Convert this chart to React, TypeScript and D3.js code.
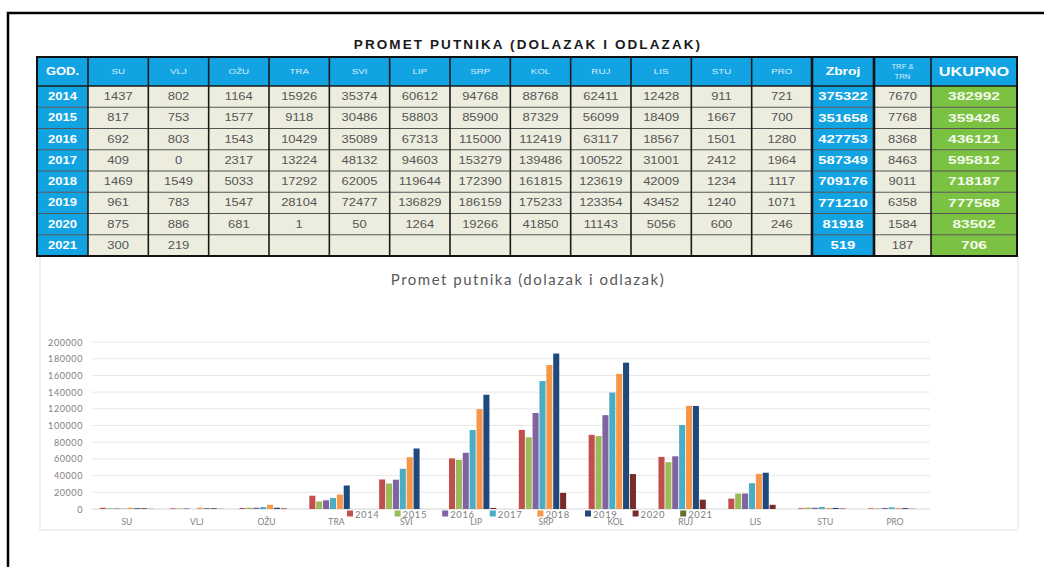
import * as d3 from "d3";
import { useEffect, useRef } from "react";

// month labels (table header + chart categories)
const months = ["SU", "VLJ", "OŽU", "TRA", "SVI", "LIP", "SRP", "KOL", "RUJ", "LIS", "STU", "PRO"];
const years = ["2014", "2015", "2016", "2017", "2018", "2019", "2020", "2021"];

// passengers per month, one array per year
const y2014 = [1437, 802, 1164, 15926, 35374, 60612, 94768, 88768, 62411, 12428, 911, 721];
const y2015 = [817, 753, 1577, 9118, 30486, 58803, 85900, 87329, 56099, 18409, 1667, 700];
const y2016 = [692, 803, 1543, 10429, 35089, 67313, 115000, 112419, 63117, 18567, 1501, 1280];
const y2017 = [409, 0, 2317, 13224, 48132, 94603, 153279, 139486, 100522, 31001, 2412, 1964];
const y2018 = [1469, 1549, 5033, 17292, 62005, 119644, 172390, 161815, 123619, 42009, 1234, 1117];
const y2019 = [961, 783, 1547, 28104, 72477, 136829, 186159, 175233, 123354, 43452, 1240, 1071];
const y2020 = [875, 886, 681, 1, 50, 1264, 19266, 41850, 11143, 5056, 600, 246];
const y2021 = [300, 219, null, null, null, null, null, null, null, null, null, null];

const zbroj = [375322, 351658, 427753, 587349, 709176, 771210, 81918, 519];
const trfTrn = [7670, 7768, 8368, 8463, 9011, 6358, 1584, 187];
const ukupno = [382992, 359426, 436121, 595812, 718187, 777568, 83502, 706];

const yTicks = [0, 20000, 40000, 60000, 80000, 100000, 120000, 140000, 160000, 180000, 200000];

const seriesColors = ["#c0504d", "#9bbb59", "#8064a2", "#4bacc6", "#f79646", "#1f497d", "#772c2a", "#5f7530"];

const monthly = [y2014, y2015, y2016, y2017, y2018, y2019, y2020, y2021];

const CYAN = "#12a3e3";
const BEIGE = "#ecedde";
const GREEN = "#7cc242";
const SX = 1.3; // the table text looks horizontally stretched

const App = () => {
  const svgRef = useRef(null);

  useEffect(() => {
    const width = 1044;
    const height = 567;
    const svg = d3.select(svgRef.current).attr("width", width).attr("height", height);
    svg.selectAll("*").remove();

    // stretched centred text helper
    const sText = (g, x, y, txt, size, fill, weight = "normal", sx = SX) =>
      g
        .append("text")
        .attr("transform", `translate(${x},${y}) scale(${sx},1)`)
        .attr("text-anchor", "middle")
        .attr("dominant-baseline", "central")
        .attr("font-family", "Liberation Sans, Arial, sans-serif")
        .attr("font-size", size)
        .attr("font-weight", weight)
        .attr("fill", fill)
        .text(txt);

    //////////
    // CHART BOX //
    //////////
    svg
      .append("rect")
      .attr("x", 40)
      .attr("y", 256)
      .attr("width", 978)
      .attr("height", 274)
      .attr("fill", "#fff")
      .attr("stroke", "#e2e2e2");

    //////////
    // TABLE //
    //////////
    const table = svg.append("g");
    const tLeft = 37;
    const tRight = 1017;
    const headTop = 57;
    const headBottom = 86;
    const tBottom = 256;
    const col = d3.scaleBand().domain(months).range([88, 812]);
    const row = d3.scaleBand().domain(years).range([headBottom, tBottom]);
    const zbX = [812, 874];
    const trfX = [874, 931];
    const ukX = [931, tRight];

    table
      .append("text")
      .attr("x", 528)
      .attr("y", 44)
      .attr("text-anchor", "middle")
      .attr("dominant-baseline", "central")
      .attr("font-family", "Liberation Sans, Arial, sans-serif")
      .attr("font-weight", "bold")
      .attr("font-size", 13.5)
      .attr("letter-spacing", 2.1)
      .attr("fill", "#1a1a1a")
      .text("PROMET PUTNIKA (DOLAZAK I ODLAZAK)");

    // header row
    table
      .append("rect")
      .attr("x", tLeft)
      .attr("y", headTop)
      .attr("width", tRight - tLeft)
      .attr("height", headBottom - headTop)
      .attr("fill", CYAN);
    const headMid = (headTop + headBottom) / 2;
    sText(table, (tLeft + 88) / 2, headMid, "GOD.", 10, "#fff", "bold");
    months.forEach((m) => sText(table, col(m) + col.bandwidth() / 2, headMid, m, 7.5, "#d8effb", "normal"));
    sText(table, (zbX[0] + zbX[1]) / 2, headMid, "Zbroj", 11.5, "#fff", "bold", 1.2);
    sText(table, (trfX[0] + trfX[1]) / 2, headMid - 5, "TRF &", 7, "#d8effb", "normal", 1.1);
    sText(table, (trfX[0] + trfX[1]) / 2, headMid + 5, "TRN", 7, "#d8effb", "normal", 1.1);
    sText(table, (ukX[0] + ukX[1]) / 2, headMid, "UKUPNO", 13, "#fff", "bold", 1.25);

    // body rows
    years.forEach((yr, i) => {
      const ry = row(yr);
      const rh = row.bandwidth();
      const mid = ry + rh / 2;
      table.append("rect").attr("x", tLeft).attr("y", ry).attr("width", 88 - tLeft).attr("height", rh).attr("fill", CYAN);
      table.append("rect").attr("x", 88).attr("y", ry).attr("width", zbX[0] - 88).attr("height", rh).attr("fill", BEIGE);
      table.append("rect").attr("x", zbX[0]).attr("y", ry).attr("width", zbX[1] - zbX[0]).attr("height", rh).attr("fill", CYAN);
      table.append("rect").attr("x", trfX[0]).attr("y", ry).attr("width", trfX[1] - trfX[0]).attr("height", rh).attr("fill", BEIGE);
      table.append("rect").attr("x", ukX[0]).attr("y", ry).attr("width", ukX[1] - ukX[0]).attr("height", rh).attr("fill", GREEN);

      sText(table, (tLeft + 88) / 2, mid, yr, 10, "#fff", "bold");
      monthly[i].forEach((v, j) => {
        if (v === null) return;
        sText(table, col(months[j]) + col.bandwidth() / 2, mid, `${v}`, 10, "#555");
      });
      sText(table, (zbX[0] + zbX[1]) / 2, mid, `${zbroj[i]}`, 11, "#fff", "bold", 1.35);
      sText(table, (trfX[0] + trfX[1]) / 2, mid, `${trfTrn[i]}`, 10, "#555");
      sText(table, (ukX[0] + ukX[1]) / 2, mid, `${ukupno[i]}`, 11.5, "#f4fbee", "bold", 1.35);
    });

    // grid lines
    const rowEdges = [headBottom, ...years.slice(1).map((yr) => row(yr))];
    rowEdges.forEach((ry, k) =>
      table
        .append("line")
        .attr("x1", tLeft)
        .attr("x2", tRight)
        .attr("y1", ry)
        .attr("y2", ry)
        .attr("stroke", k === 0 ? "#1a1a1a" : "#555")
        .attr("stroke-width", k === 0 ? 1.5 : 1)
    );
    const colEdges = [88, ...months.slice(1).map((m) => col(m)), trfX[1]];
    colEdges.forEach((cx) =>
      table
        .append("line")
        .attr("x1", cx)
        .attr("x2", cx)
        .attr("y1", headTop)
        .attr("y2", tBottom)
        .attr("stroke", "#1a1a1a")
        .attr("stroke-width", 1.6)
    );
    [zbX[0], zbX[1]].forEach((cx) =>
      table
        .append("line")
        .attr("x1", cx)
        .attr("x2", cx)
        .attr("y1", headTop)
        .attr("y2", tBottom)
        .attr("stroke", "#111")
        .attr("stroke-width", 2.6)
    );
    table
      .append("rect")
      .attr("x", tLeft)
      .attr("y", headTop)
      .attr("width", tRight - tLeft)
      .attr("height", tBottom - headTop)
      .attr("fill", "none")
      .attr("stroke", "#111")
      .attr("stroke-width", 2);

    //////////
    // BAR CHART //
    //////////
    const chart = svg.append("g");
    const x0 = d3.scaleBand().domain(months).range([92, 930]).paddingInner(0.2).paddingOuter(0.1);
    const x1 = d3.scaleBand().domain(years).range([0, x0.bandwidth()]).padding(0.12);
    const y = d3.scaleLinear().domain([0, 200000]).range([509, 342]);

    chart
      .append("text")
      .attr("x", 528)
      .attr("y", 279)
      .attr("text-anchor", "middle")
      .attr("dominant-baseline", "central")
      .attr("font-family", "Lato, sans-serif")
      .attr("font-size", 15)
      .attr("letter-spacing", 1.5)
      .attr("fill", "#595959")
      .text("Promet putnika (dolazak i odlazak)");

    chart
      .selectAll("gridLine")
      .data(yTicks)
      .enter()
      .append("line")
      .attr("x1", 92)
      .attr("x2", 930)
      .attr("y1", (d) => y(d))
      .attr("y2", (d) => y(d))
      .attr("stroke", (d) => (d === 0 ? "#d6d6d6" : "#e8e8e8"))
      .attr("stroke-width", 1);

    chart
      .selectAll("yLabel")
      .data(yTicks)
      .enter()
      .append("text")
      .attr("x", 83)
      .attr("y", (d) => y(d))
      .attr("text-anchor", "end")
      .attr("dominant-baseline", "central")
      .attr("font-family", "Lato, sans-serif")
      .attr("font-size", 9)
      .attr("letter-spacing", 0.6)
      .attr("fill", "#808080")
      .text((d) => d);

    years.forEach((yr, i) => {
      chart
        .selectAll(`bar${yr}`)
        .data(monthly[i].map((v, j) => ({ m: months[j], v })).filter((d) => d.v !== null))
        .enter()
        .append("rect")
        .attr("x", (d) => x0(d.m) + x1(yr))
        .attr("y", (d) => y(d.v))
        .attr("width", x1.bandwidth())
        .attr("height", (d) => y(0) - y(d.v))
        .attr("fill", seriesColors[i]);
    });

    chart
      .selectAll("xLabel")
      .data(months)
      .enter()
      .append("text")
      .attr("x", (d) => x0(d) + x0.bandwidth() / 2)
      .attr("y", 522)
      .attr("text-anchor", "middle")
      .attr("dominant-baseline", "central")
      .attr("font-family", "Lato, sans-serif")
      .attr("font-size", 8.5)
      .attr("fill", "#808080")
      .text((d) => d);

    // legend (sits over the axis labels, as in the original)
    const legend = chart
      .selectAll("legendItem")
      .data(years)
      .enter()
      .append("g")
      .attr("transform", (d, i) => `translate(${347 + i * 47.6},514)`);
    legend
      .append("rect")
      .attr("x", 0)
      .attr("y", -3.5)
      .attr("width", 6)
      .attr("height", 6)
      .attr("fill", (d, i) => seriesColors[i]);
    legend
      .append("text")
      .attr("x", 8)
      .attr("y", 0)
      .attr("dominant-baseline", "central")
      .attr("font-family", "Lato, sans-serif")
      .attr("font-size", 9.5)
      .attr("letter-spacing", 0.6)
      .attr("fill", "#808080")
      .text((d) => d);

    // outer frame
    svg
      .append("path")
      .attr("d", "M8,567 V13 H1044")
      .attr("fill", "none")
      .attr("stroke", "#000")
      .attr("stroke-width", 2.5);
  }, []);

  return <svg ref={svgRef} style={{ position: "absolute", left: 0, top: 0, background: "#fff" }}></svg>;
};

export default App;
